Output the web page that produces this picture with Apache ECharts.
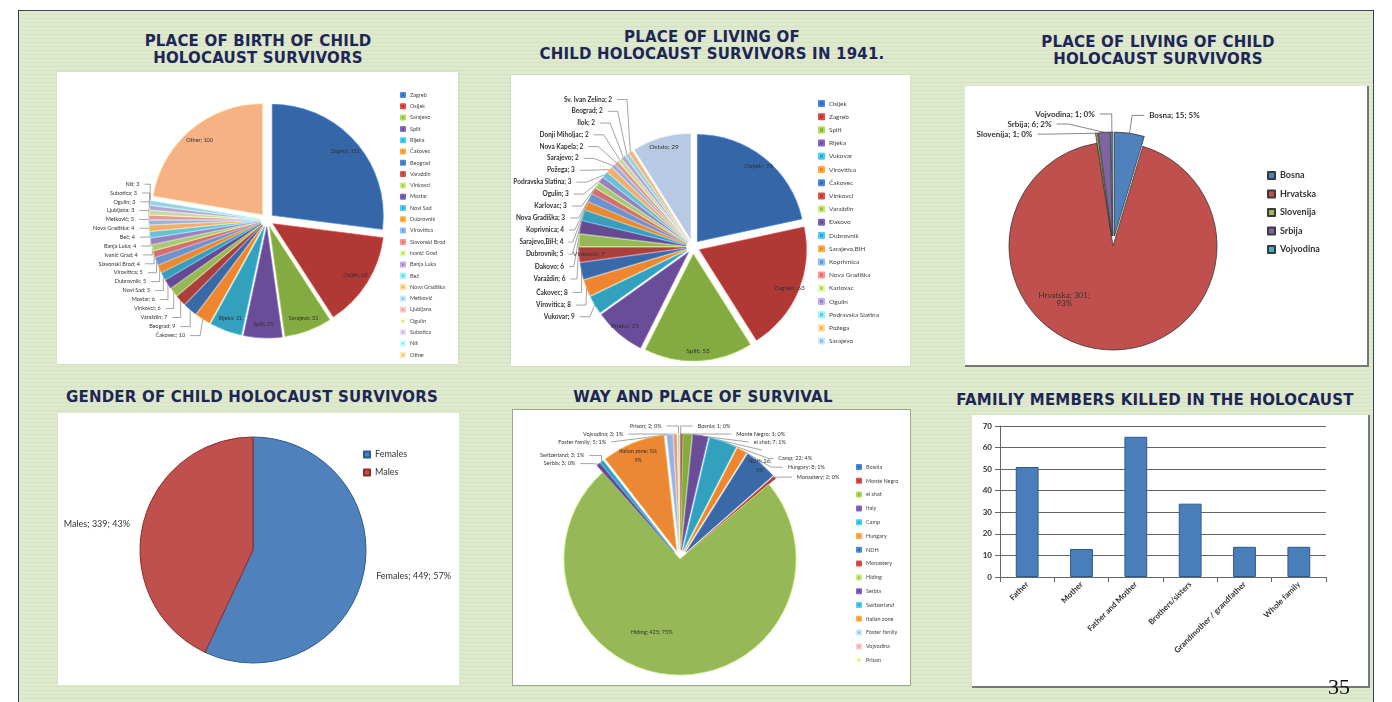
<!DOCTYPE html>
<html>
<head>
<meta charset="utf-8">
<script src="https://cdn.jsdelivr.net/npm/echarts@6/dist/echarts.min.js"></script>
<style>
body { margin: 0; width: 1392px; height: 702px; overflow: hidden; position: relative; background: #fff; }
#sheet {
    position: absolute; left: 18px; top: 10px; width: 1354px; height: 700px;
    border: 1px solid #3d4357;
    background: repeating-linear-gradient(180deg, #dfe9cd 0px, #dfe9cd 3px, #d6e3c1 3px, #d6e3c1 4px);
}
.ttl {
    position: absolute; transform: translateX(-50%); white-space: nowrap; text-align: center;
    font: bold 15px 'DejaVu Sans', sans-serif; letter-spacing: 0.2px; color: #1d2656; line-height: 17px;
}
.panel { position: absolute; background: #fff; }
#page { position: absolute; left: 1328px; top: 674px; font: 22px 'Liberation Serif', serif; color: #111; }
</style>
</head>
<body>
<div id="sheet"></div>

<!-- titres -->
<div class="ttl" style="left:258px;top:33px">PLACE OF BIRTH OF CHILD<br>HOLOCAUST SURVIVORS</div>
<div class="ttl" style="left:712px;top:29px">PLACE OF LIVING OF<br>CHILD HOLOCAUST SURVIVORS IN 1941.</div>
<div class="ttl" style="left:1158px;top:34px">PLACE OF LIVING OF CHILD<br>HOLOCAUST SURVIVORS</div>
<div class="ttl" style="left:252px;top:389px">GENDER OF CHILD HOLOCAUST SURVIVORS</div>
<div class="ttl" style="left:703px;top:389px">WAY AND PLACE OF SURVIVAL</div>
<div class="ttl" style="left:1155px;top:392px">FAMILIY MEMBERS KILLED IN THE HOLOCAUST</div>

<!-- panneaux -->
<div class="panel" id="birth" style="left:57px;top:72px;width:401px;height:292px;box-shadow:0 0 1px #bbb"></div>
<div class="panel" id="living41" style="left:511px;top:75px;width:399px;height:291px;box-shadow:0 0 1px #bbb"></div>
<div class="panel" id="living" style="left:965px;top:86px;width:402px;height:279px;box-shadow:1px 1px 0 1px #777"></div>
<div class="panel" id="gender" style="left:58px;top:413px;width:401px;height:272px"></div>
<div class="panel" id="survival" style="left:513px;top:410px;width:397px;height:275px;box-shadow:0 0 0 1px #9aa58c"></div>
<div class="panel" id="killed" style="left:972px;top:415px;width:396px;height:271px;box-shadow:1px 1px 0 1px #777"></div>
<div id="page">35</div>

<script>
// ---- données ----
// lieu de naissance
const birthNames = ['Zagreb', 'Osijek', 'Sarajevo', 'Split', 'Rijeka', 'Čakovec', 'Beograd', 'Varaždin', 'Vinkovci', 'Mostar',
    'Novi Sad', 'Dubrovnik', 'Virovitica', 'Slavonski Brod', 'Ivanić Grad', 'Banja Luka', 'Beč', 'Nova Gradiška',
    'Metković', 'Ljubljana', 'Ogulin', 'Subotica', 'Niš', 'Other'];
const birthValues = [121, 62, 31, 25, 21, 10, 9, 7, 6, 6, 5, 5, 5, 4, 4, 4, 4, 4, 3, 3, 3, 3, 3, 100];

// lieu de vie en 1941
const living41Names = ['Osijek', 'Zagreb', 'Split', 'Rijeka', 'Vukovar', 'Virovitica', 'Čakovec', 'Vinkovci', 'Varaždin', 'Đakovo',
    'Dubrovnik', 'Sarajevo,BiH', 'Koprivnica', 'Nova Gradiška', 'Karlovac', 'Ogulin', 'Podravska Slatina', 'Požega',
    'Sarajevo', 'Nova Kapela', 'Donji Miholjac', 'Ilok', 'Beograd', 'Sv. Ivan Zelina', 'Ostalo'];
const living41Values = [70, 63, 53, 25, 9, 8, 8, 7, 6, 6, 5, 4, 4, 3, 3, 3, 3, 3, 2, 2, 2, 2, 2, 2, 29];
const living41Legend = living41Names.slice(0, 19);

// lieu de vie (pays)
const livingNames = ['Bosna', 'Hrvatska', 'Slovenija', 'Srbija', 'Vojvodina'];
const livingValues = [15, 301, 1, 6, 1];
const livingPct = [5, 93, 0, 2, 0];

// sexe
const genderNames = ['Females', 'Males'];
const genderValues = [449, 339];
const genderPct = [57, 43];

// façon et lieu de survie
const survivalNames = ['Bosnia', 'Monte Negro', 'el shat', 'Italy', 'Camp', 'Hungary', 'NDH', 'Monastery', 'Hiding',
    'Serbia', 'Switzerland', 'Italian zone', 'Foster family', 'Vojvodina', 'Prison'];
const survivalValues = [1, 1, 7, 12, 22, 8, 26, 2, 425, 3, 3, 50, 5, 3, 2];
const survivalPct = [0, 0, 1, 2, 4, 1, 5, 0, 75, 0, 1, 9, 1, 1, 0];

// membres de la famille tués
const killedCats = ['Father', 'Mother', 'Father and Mother', 'Brothers/sisters', 'Grandmother / grandfather', 'Whole family'];
const killedValues = [51, 13, 65, 34, 14, 14];

// palette type Excel 2007
const base = ['#3567a8', '#b03835', '#84aa42', '#6a4d98', '#33a0be', '#ef8530'];
const dark = ['#3a69a8', '#a9403d', '#96b857', '#654a92', '#3a9dbb', '#ec8834'];
const mid = ['#6b93cc', '#d0716e', '#aac978', '#9783ba', '#6cbfd6', '#f7ab6e'];
const light = ['#95b3dc', '#e09a98', '#c4db9f', '#b5a7cf', '#98d2e2', '#f6b185'];
const pale = ['#b8cae3', '#ecbebd', '#d7e6c0', '#cdc3de', '#bde3ed', '#fbd3b3'];
function pal(i) {
    const g = [base, dark, mid, light, pale][Math.floor(i / 6) % 5];
    return g[i % 6];
}
function shade(c) {
    return echarts.color.lift(c, -0.3);
}
// décalage d'une étiquette intérieure vers le bord de la part
function outward(values, i, k) {
    const total = values.reduce((a, b) => a + b, 0);
    let acc = 0;
    for (let j = 0; j < i; j++) acc += values[j];
    const a = (acc + values[i] / 2) / total * 2 * Math.PI;
    return [k * Math.sin(a), -k * Math.cos(a)];
}
// série transparente qui ne porte que les étiquettes intérieures
// (le décalage des étiquettes ne marche pas sur les parts sélectionnées)
function labelLayer(base, names, values, offsetOf, label) {
    return Object.assign({
        type: 'pie', startAngle: 90, silent: true, z: 5,
        emphasis: { disabled: true },
        itemStyle: { color: 'rgba(0,0,0,0)', borderWidth: 0 },
        labelLine: { show: false },
        label: Object.assign({ position: 'inside' }, label),
        data: names.map((n, i) => {
            const off = offsetOf(n, i);
            return { name: n, value: values[i], label: off ? { show: true, offset: off } : { show: false } };
        })
    }, base);
}

const lblFont = 'Lato, "Liberation Sans", sans-serif';

function mk(id, option) {
    const c = echarts.init(document.getElementById(id));
    c.setOption(option);
    return c;
}

// 1. lieu de naissance
const birthBox = { top: 0, bottom: 30, center: [210, 148], radius: 111 };
mk('birth', {
    animation: false,
    legend: {
        orient: 'vertical', left: 343, top: 20, padding: 0, icon: 'rect', itemWidth: 4, itemHeight: 4, itemGap: 5.3,
        textStyle: { fontSize: 5.5, color: '#444', fontFamily: lblFont },
        data: birthNames
    },
    series: [Object.assign({
        type: 'pie', startAngle: 90,
        selectedMode: 'multiple', selectedOffset: 7,
        emphasis: { disabled: true },
        itemStyle: { borderWidth: 0.7 },
        label: { fontSize: 5.5, lineHeight: 6.5, color: '#333', fontFamily: lblFont, formatter: '{b}; {c}', overflow: 'none' },
        labelLine: { length: 5, length2: 10, lineStyle: { color: '#666', width: 0.6 } },
        data: birthNames.map((n, i) => ({
            name: n, value: birthValues[i], selected: true,
            itemStyle: { color: pal(i), borderColor: shade(pal(i)) },
            label: birthValues[i] > 20 ? { show: false } : {},
            labelLine: birthValues[i] > 20 ? { show: false } : {}
        }))
    }, birthBox),
    labelLayer(birthBox, birthNames, birthValues,
        (n, i) => birthValues[i] > 20 ? outward(birthValues, i, 46) : null,
        { fontSize: 5.5, color: '#333', fontFamily: lblFont, formatter: '{b}; {c}' })]
});

// 2. lieu de vie en 1941
const inside41 = ['Osijek', 'Zagreb', 'Split', 'Rijeka', 'Vinkovci', 'Ostalo'];
const box41 = { top: 0, bottom: 46, center: [182, 172], radius: 107 };
mk('living41', {
    animation: false,
    legend: {
        orient: 'vertical', left: 302, top: 20, icon: 'rect', itemWidth: 5, itemHeight: 5, itemGap: 6.2,
        textStyle: { fontSize: 6.5, color: '#444', fontFamily: lblFont },
        data: living41Legend
    },
    series: [Object.assign({
        type: 'pie', startAngle: 90,
        selectedMode: 'multiple', selectedOffset: 7,
        emphasis: { disabled: true },
        itemStyle: { borderWidth: 0.7 },
        label: { fontSize: 6.5, lineHeight: 9.6, fontWeight: 'bold', color: '#333', fontFamily: lblFont, formatter: '{b}; {c}', overflow: 'none' },
        labelLine: { length: 6, length2: 10, lineStyle: { color: '#666', width: 0.6 } },
        data: living41Names.map((n, i) => ({
            name: n, value: living41Values[i], selected: true,
            itemStyle: { color: pal(i), borderColor: shade(pal(i)) },
            label: inside41.includes(n) ? { show: false } : {},
            labelLine: inside41.includes(n) ? { show: false } : {}
        }))
    }, box41),
    labelLayer(box41, living41Names, living41Values,
        (n, i) => inside41.includes(n) ? outward(living41Values, i, 48) : null,
        { fontSize: 6.5, color: '#333', fontFamily: lblFont, formatter: '{b}; {c}' })]
});

// 3. lieu de vie (pays)
mk('living', {
    animation: false,
    legend: {
        orient: 'vertical', left: 297, top: 80, icon: 'rect', itemWidth: 7, itemHeight: 7, itemGap: 9.5,
        textStyle: { fontSize: 9, color: '#333', fontFamily: lblFont, fontWeight: 'bold' },
        data: livingNames
    },
    series: [{
        type: 'pie', center: [148, 160], radius: 104, startAngle: 90,
        selectedMode: 'multiple', selectedOffset: 10,
        emphasis: { disabled: true },
        itemStyle: { borderWidth: 0.8 },
        label: {
            fontSize: 8, fontWeight: 'bold', color: '#333', fontFamily: lblFont,
            formatter: p => p.name + '; ' + p.value + '; ' + livingPct[p.dataIndex] + '%'
        },
        labelLine: { length: 18, length2: 12, lineStyle: { color: '#555', width: 0.7 } },
        data: livingNames.map((n, i) => ({
            name: n, value: livingValues[i], selected: n !== 'Hrvatska',
            itemStyle: { color: ['#4f81bd', '#c0504d', '#9bbb59', '#8064a2', '#4bacc6'][i], borderColor: '#3a3a3a' },
            label: n === 'Hrvatska' ? {
                position: 'inside', fontWeight: 'normal', offset: [-45, -1],
                formatter: p => p.name + '; ' + p.value + ';\n' + livingPct[p.dataIndex] + '%'
            } : {}
        }))
    }]
});

// 4. sexe
mk('gender', {
    animation: false,
    legend: {
        orient: 'vertical', left: 300, top: 32, icon: 'rect', itemWidth: 6, itemHeight: 6, itemGap: 9,
        textStyle: { fontSize: 9, color: '#333', fontFamily: lblFont },
        data: genderNames
    },
    series: [{
        type: 'pie', center: [195, 137], radius: 113, startAngle: 90,
        emphasis: { disabled: true },
        itemStyle: { borderWidth: 1 },
        label: {
            fontSize: 9, color: '#333', fontFamily: lblFont, overflow: 'none',
            formatter: p => p.name + '; ' + p.value + '; ' + genderPct[p.dataIndex] + '%'
        },
        labelLine: { show: false, length: 6, length2: 2 },
        data: genderNames.map((n, i) => ({
            name: n, value: genderValues[i],
            itemStyle: { color: ['#4f81bd', '#c0504d'][i], borderColor: ['#2d5a8e', '#8c2f2c'][i] }
        }))
    }]
});

// 5. façon et lieu de survie
const survivalInside = { 'NDH': 62, 'Italian zone': 50, 'Hiding': [-24, 12] };
const survivalBox = { center: [167, 149], radius: 116 };
const survivalFmt = p => p.name + '; ' + p.value + '; ' + survivalPct[p.dataIndex] + '%';
mk('survival', {
    animation: false,
    legend: {
        orient: 'vertical', left: 338, top: 49, icon: 'rect', itemWidth: 4, itemHeight: 4, itemGap: 7.8,
        textStyle: { fontSize: 5.5, color: '#444', fontFamily: lblFont },
        data: survivalNames
    },
    series: [Object.assign({
        type: 'pie', startAngle: 90,
        selectedMode: 'multiple', selectedOffset: 9,
        emphasis: { disabled: true },
        itemStyle: { borderWidth: 0.7 },
        label: { fontSize: 5.5, color: '#333', fontFamily: lblFont, formatter: survivalFmt },
        labelLine: { length: 8, length2: 12, lineStyle: { color: '#666', width: 0.6 } },
        data: survivalNames.map((n, i) => {
            const col = i < 12 ? pal(i) : light[i % 6];
            const inner = n in survivalInside;
            return {
                name: n, value: survivalValues[i], selected: n !== 'Hiding',
                itemStyle: { color: col, borderColor: shade(col) },
                label: inner ? { show: false } : {},
                labelLine: inner ? { show: false } : {}
            };
        })
    }, survivalBox),
    labelLayer(survivalBox, survivalNames, survivalValues,
        (n, i) => {
            const o = survivalInside[n];
            if (o === undefined) return null;
            return Array.isArray(o) ? o : outward(survivalValues, i, o);
        },
        {
            fontSize: 5.5, lineHeight: 9, color: '#333', fontFamily: lblFont,
            formatter: p => p.name === 'Hiding' ? survivalFmt(p)
                : p.name + '; ' + p.value + ';\n' + survivalPct[p.dataIndex] + '%'
        })]
});

// 6. membres de la famille tués
mk('killed', {
    animation: false,
    grid: { left: 28, top: 11, right: 42, bottom: 109 },
    xAxis: {
        type: 'category', data: killedCats,
        axisLine: { lineStyle: { color: '#666' } },
        axisTick: { show: true, lineStyle: { color: '#666' } },
        axisLabel: { rotate: 45, interval: 0, fontSize: 8, fontWeight: 'bold', color: '#333', fontFamily: lblFont, margin: 6 }
    },
    yAxis: {
        type: 'value', min: 0, max: 70, interval: 10,
        axisLine: { show: true, lineStyle: { color: '#666' } },
        axisTick: { show: true, lineStyle: { color: '#666' } },
        axisLabel: { fontSize: 8, fontWeight: 'bold', color: '#333', fontFamily: lblFont },
        splitLine: { lineStyle: { color: '#666', width: 1 } }
    },
    series: [{
        type: 'bar', data: killedValues, barWidth: '42%',
        itemStyle: { color: '#4a7ebb', borderColor: '#2d5a8e', borderWidth: 1 }
    }]
});
</script>
</body>
</html>
